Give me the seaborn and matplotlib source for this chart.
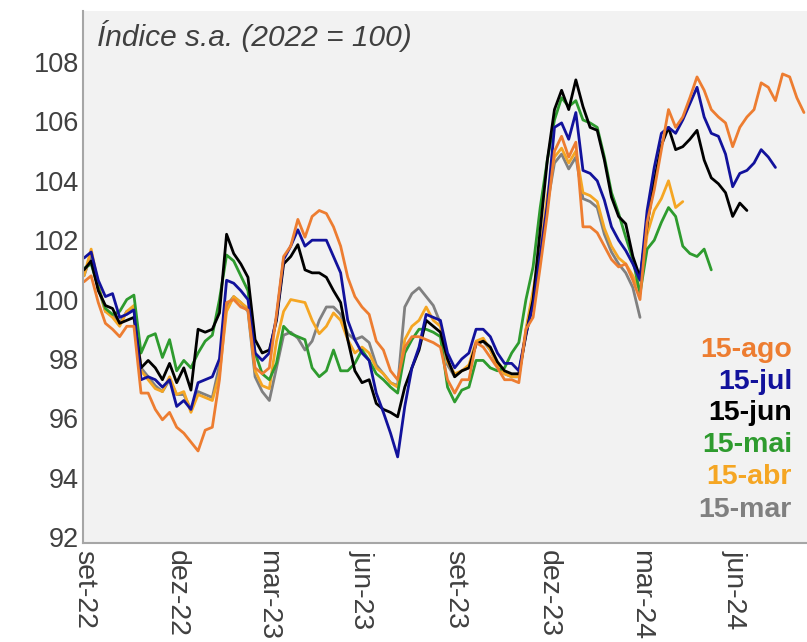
import matplotlib
matplotlib.use("Agg")
import matplotlib.pyplot as plt
import seaborn as sns
import pandas as pd
import numpy as np

# ---------------- data (weekly readings, index = weeks since 2022-09-01) ----------------
start_date = "2022-09-01"

s_ago = [100.6, 100.8, 99.9, 99.2, 99.0, 98.75, 99.1, 99.1, 96.85, 96.85,
         96.3, 95.95, 96.2, 95.7, 95.5, 95.2, 94.9, 95.6, 95.7, 97.3,
         99.9, 100.0, 99.75, 99.65, 97.7, 97.5, 97.7, 99.5, 101.45, 101.8,
         102.7, 102.1, 102.8, 103.0, 102.9, 102.45, 101.8, 100.75, 100.1, 99.75,
         99.5, 98.6, 98.3, 97.6, 97.3, 98.4, 98.75, 98.75, 98.65, 98.55,
         98.4, 97.3, 96.85, 97.3, 97.3, 98.55, 98.4, 98.05, 97.7, 97.3,
         97.3, 97.2, 99.0, 99.4, 101.1, 102.9, 105.0, 105.5, 104.8, 105.3,
         102.45, 102.45, 102.25, 101.8, 101.35, 101.1, 101.2, 100.65, 100.0, 102.6,
         103.7, 105.05, 106.4, 105.8, 106.15, 106.8, 107.5, 107.05, 106.4, 106.15,
         105.95, 105.15, 105.8, 106.15, 106.4, 107.3, 107.15, 106.7, 107.6, 107.5,
         106.8, 106.3]

s_jul = [101.4, 101.6, 100.65, 100.1, 100.2, 99.4, 99.5, 99.65, 97.3, 97.4,
         97.3, 97.05, 97.3, 96.4, 96.6, 96.3, 97.2, 97.3, 97.4, 98.0,
         100.65, 100.55, 100.3, 100.0, 98.2, 97.95, 98.2, 99.4, 101.35, 101.8,
         102.35, 101.8, 102.0, 102.0, 102.0, 101.45, 100.9, 99.3, 98.65, 98.2,
         97.95, 96.85, 96.2, 95.5, 94.7, 96.4, 97.7, 98.4, 99.5, 99.4,
         99.3, 98.2, 97.7, 98.0, 98.2, 99.0, 99.0, 98.75, 98.2, 97.85,
         97.85, 97.6, 98.85, 99.8, 101.5, 103.2, 105.8, 105.95, 105.4, 106.3,
         104.35, 104.25, 104.0, 103.35, 102.45, 102.0, 101.65, 101.2, 100.65, 103.0,
         104.45, 105.6, 105.8, 105.6, 106.05, 106.6, 107.15, 106.15, 105.6, 105.5,
         104.9, 103.8, 104.25, 104.35, 104.6, 105.05, 104.8, 104.45]

s_jun = [101.0, 101.3, 100.3, 99.8, 99.7, 99.2, 99.3, 99.4, 97.7, 97.95,
         97.7, 97.3, 97.85, 97.2, 97.7, 96.95, 99.0, 98.9, 99.0, 99.55,
         102.2, 101.55, 101.2, 100.75, 98.65, 98.2, 98.3, 99.3, 101.2, 101.45,
         101.85, 101.0, 100.9, 100.9, 100.75, 100.3, 99.9, 98.65, 97.6, 97.2,
         97.3, 96.5, 96.3, 96.2, 96.05, 97.05, 97.7, 98.3, 99.3, 99.1,
         98.9, 98.0, 97.4, 97.6, 97.7, 98.5, 98.6, 98.4, 97.9, 97.6,
         97.5, 97.5, 98.8, 100.0, 102.35, 104.7, 106.4, 107.05, 106.4, 107.4,
         106.5, 105.8, 105.7, 104.7, 103.45, 102.8, 102.55, 101.45, 100.75, 102.5,
         104.0, 105.2, 105.8, 105.05, 105.15, 105.4, 105.7, 104.7, 104.1, 103.9,
         103.6, 102.8, 103.25, 103.0]

s_mai = [101.05, 101.2, 100.4, 99.7, 99.5, 99.6, 100.0, 100.15, 98.2, 98.75,
         98.85, 98.05, 98.65, 97.6, 97.95, 97.7, 98.2, 98.6, 98.8, 100.0,
         101.5, 101.3, 100.8, 100.3, 98.2, 97.5, 97.3, 97.85, 99.1, 98.85,
         98.75, 98.65, 97.7, 97.4, 97.6, 98.3, 97.6, 97.6, 97.85, 98.3,
         97.95, 97.5, 97.3, 97.05, 96.85, 98.2, 98.65, 99.0, 99.0, 98.9,
         98.75, 97.05, 96.55, 96.95, 97.05, 97.95, 97.95, 97.7, 97.6, 97.7,
         98.2, 98.55, 100.0, 101.1, 103.1, 104.7, 106.05, 106.8, 106.5, 106.7,
         106.05, 105.95, 105.8, 104.8, 103.6, 102.9, 102.1, 101.35, 100.2, 101.7,
         102.0, 102.6, 103.1, 102.8, 101.8, 101.55, 101.45, 101.7, 101.0]

s_abr = [100.8, 101.7, 100.5, 99.6, 99.4, 99.1, 99.6, 99.8, 97.6, 97.3,
         97.0, 96.9, 97.4, 96.8, 96.9, 96.2, 96.8, 96.7, 96.6, 97.5,
         99.6, 100.1, 99.9, 99.7, 97.6, 97.1, 97.0, 98.6, 99.6, 100.0,
         99.95, 99.9, 99.3, 98.85, 99.1, 99.55, 99.3, 98.65, 98.2, 98.4,
         98.2, 97.7, 97.5, 97.2, 97.05, 98.65, 99.1, 99.3, 99.75, 99.3,
         99.1, 97.9, 97.5, 97.6, 97.8, 98.6, 98.7, 98.3, 97.8, 97.5,
         97.4, 97.4, 99.0, 100.3, 101.6, 103.5, 104.8, 105.1, 104.6, 105.0,
         103.6, 103.5, 103.3, 102.4, 101.8, 101.4, 101.2, 100.8, 100.3, 102.2,
         103.0, 103.4, 104.0, 103.1, 103.3]

s_mar = [100.8, 101.5, 100.4, 99.6, 99.5, 99.2, 99.6, 99.7, 97.7, 97.4,
         97.1, 96.9, 97.3, 96.8, 96.8, 96.3, 96.9, 96.8, 96.7, 97.8,
         99.8, 100.1, 99.9, 99.6, 97.4, 96.9, 96.6, 97.7, 98.8, 98.9,
         98.7, 98.3, 98.6, 99.3, 99.75, 99.75, 99.5, 98.85, 98.65, 98.75,
         98.55, 97.8, 97.5, 97.2, 97.1, 99.75, 100.2, 100.4, 100.1, 99.8,
         99.2, 97.8, 97.4, 97.6, 97.7, 98.5, 98.6, 98.3, 97.8, 97.5,
         97.4, 97.4, 98.9, 100.2, 101.4, 103.2, 104.6, 104.9, 104.4, 104.8,
         103.4, 103.3, 103.1, 102.2, 101.6, 101.2, 100.9, 100.4, 99.4]

series_names = ["15-mar", "15-abr", "15-mai", "15-jun", "15-jul", "15-ago"]
series_values = [s_mar, s_abr, s_mai, s_jun, s_jul, s_ago]
colors = {"15-ago": "#ED7D31", "15-jul": "#12129C", "15-jun": "#000000",
          "15-mai": "#2E9B2E", "15-abr": "#F5A623", "15-mar": "#808080"}
legend_order = ["15-ago", "15-jul", "15-jun", "15-mai", "15-abr", "15-mar"]

tick_dates = ["2022-09-01", "2022-12-01", "2023-03-01", "2023-06-01",
              "2023-09-01", "2023-12-01", "2024-03-01", "2024-06-01"]
tick_labels = ["set-22", "dez-22", "mar-23", "jun-23", "set-23", "dez-23", "mar-24", "jun-24"]
y_ticks = [92, 94, 96, 98, 100, 102, 104, 106, 108]
title_text = "Índice s.a. (2022 = 100)"

# ---------------- build long frame ----------------
frames = []
for name, vals in zip(series_names, series_values):
    d = pd.date_range(start_date, periods=len(vals), freq="7D")
    frames.append(pd.DataFrame({"data": d, "valor": vals, "serie": name}))
df = pd.concat(frames, ignore_index=True)

# ---------------- plot ----------------
sns.set_style("white")
plt.rcParams["font.family"] = ["Liberation Sans", "DejaVu Sans"]

fig = plt.figure(figsize=(8.07, 6.42), dpi=100)
ax = fig.add_axes([83 / 807, 1 - 543 / 642, 1 - 83 / 807, (543 - 11) / 642])
ax.set_facecolor("#F2F2F2")

sns.lineplot(data=df, x="data", y="valor", hue="serie", hue_order=series_names,
             palette=colors, linewidth=2.0, legend=False, ax=ax, estimator=None)

ax.set_xlim(pd.Timestamp("2022-08-31"), pd.Timestamp("2024-08-11"))
ax.set_ylim(91.8, 109.72)
ax.set_yticks(y_ticks)
ax.set_yticklabels([str(v) for v in y_ticks], fontsize=19.5, color="#404040")
ax.set_xticks(pd.to_datetime(tick_dates))
ax.set_xticklabels(tick_labels, rotation=270, fontsize=20.5, color="#404040",
                   ha="center", va="top")
ax.tick_params(axis="both", length=0)
ax.tick_params(axis="y", pad=3)
ax.tick_params(axis="x", pad=5)
ax.set_xlabel("")
ax.set_ylabel("")

for s in ["top", "right"]:
    ax.spines[s].set_visible(False)
for s in ["left", "bottom"]:
    ax.spines[s].set_color("#A6A6A6")
    ax.spines[s].set_linewidth(1.5)

ax.text(14 / 724, (543 - 20) / 532, title_text, transform=ax.transAxes,
        fontsize=21.5, style="italic", color="#404040", ha="left", va="top")

legend_y = [350, 382, 413, 445, 477, 510]
for name, yp in zip(legend_order, legend_y):
    ax.text((792 - 83) / 724, (543 - yp) / 532, name, transform=ax.transAxes,
            fontsize=20.5, fontweight="bold", color=colors[name], ha="right", va="center")

fig.savefig("out.png", dpi=100)
